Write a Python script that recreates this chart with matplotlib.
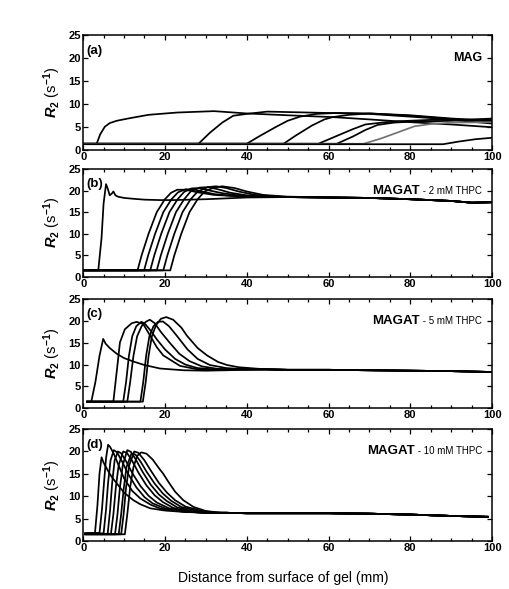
import numpy as np
import matplotlib
matplotlib.use('Agg')
import matplotlib.pyplot as plt
from matplotlib.ticker import MultipleLocator

plt.rcParams['font.family'] = ['Liberation Sans', 'DejaVu Sans']
plt.rcParams['mathtext.fontset'] = 'custom'
plt.rcParams['mathtext.rm'] = 'Liberation Sans:bold'
plt.rcParams['mathtext.it'] = 'Liberation Sans:italic:bold'

#%% data (x in mm, y = R2 in 1/s)
# (a) MAG
a1_x = [0, 3.3, 4.2, 5.3, 6.5, 8.2, 11, 16, 23, 32, 40, 50, 61, 70, 80, 90, 100]
a1_y = [1.4, 1.4, 3.5, 5.1, 5.9, 6.4, 6.9, 7.7, 8.2, 8.5, 8.0, 7.6, 7.2, 6.7, 6.1, 5.6, 5.0]
a2_x = [0, 28.2, 31, 34, 36.7, 40, 45, 55, 70, 85, 100]
a2_y = [1.4, 1.4, 3.8, 6.0, 7.5, 7.9, 8.4, 8.2, 7.9, 7.0, 5.8]
a3_x = [0, 40, 43, 47, 50, 53, 57, 62, 70, 80, 90, 100]
a3_y = [1.4, 1.4, 3.0, 5.0, 6.4, 7.3, 7.9, 8.1, 8.0, 7.5, 6.8, 6.2]
a4_x = [0, 49, 52, 56, 59, 61, 65, 70, 80, 90, 100]
a4_y = [1.4, 1.4, 3.2, 5.4, 6.7, 7.2, 7.7, 8.0, 7.6, 6.9, 6.4]
a5_x = [0, 57.5, 62, 66, 69, 73, 77, 85, 100]
a5_y = [1.4, 1.4, 3.1, 4.6, 5.6, 6.0, 6.3, 6.6, 6.7]
a6_x = [0, 62, 66, 69, 72, 76, 80, 90, 100]
a6_y = [1.4, 1.4, 3.0, 4.4, 5.5, 6.0, 6.2, 6.4, 6.9]
a7_x = [0, 68.6, 73, 77, 81, 85, 90, 100]
a7_y = [1.4, 1.4, 2.6, 3.9, 5.2, 5.7, 6.0, 6.1]
a8_x = [0, 88, 92, 96, 100]
a8_y = [1.3, 1.3, 1.9, 2.4, 2.7]

# (b) MAGAT - 2 mM THPC
b1_x = [0, 3.7, 4.5, 5.0, 5.6, 6.0, 6.5, 7.0, 7.4, 7.9, 8.5, 10, 12.3, 15, 18.8, 22, 30, 40]
b1_y = [1.5, 1.5, 9, 17, 21.5, 20.5, 18.9, 19.3, 19.8, 18.9, 18.6, 18.3, 18.1, 17.9, 17.8, 17.8, 18.0, 18.4]
b2_x = [0, 13.3, 14.3, 16, 18, 20, 21.5, 23, 25, 28, 32, 38]
b2_y = [1.5, 1.5, 5, 10, 15, 18, 19.5, 20.2, 20.2, 19.6, 19.0, 18.7]
b3_x = [0, 14.9, 15.9, 17.6, 19.6, 21.6, 23.2, 25, 27, 29, 32, 36, 42]
b3_y = [1.5, 1.5, 5, 10, 15, 18, 19.6, 20.3, 20.3, 19.8, 19.2, 18.8, 18.6]
b4_x = [0, 16.4, 17.4, 19.1, 21.1, 23.1, 24.7, 26.5, 28.5, 30.5, 34, 38, 44]
b4_y = [1.5, 1.5, 5, 10, 15, 18, 19.7, 20.5, 20.6, 20.1, 19.4, 18.9, 18.6]
b5_x = [0, 18.0, 19.0, 20.7, 22.7, 24.7, 26.3, 28.5, 30.5, 33, 36, 40, 46]
b5_y = [1.5, 1.5, 5, 10, 15, 18, 19.8, 20.7, 20.8, 20.3, 19.5, 18.9, 18.6]
b6_x = [0, 19.6, 20.6, 22.3, 24.3, 26.3, 28, 30.5, 32.5, 35, 38, 42, 48]
b6_y = [1.5, 1.5, 5, 10, 15, 18, 19.8, 20.8, 21.0, 20.6, 19.8, 19.0, 18.6]
b7_x = [0, 21.3, 22.3, 24.0, 26.0, 28.0, 29.7, 32, 34, 37, 40, 44, 50]
b7_y = [1.5, 1.5, 5, 10, 15, 18, 19.8, 20.7, 21.0, 20.6, 19.8, 19.0, 18.6]
b_tail_x = [50, 60, 70, 80, 90, 95, 100]
b_tail_y = [18.5, 18.4, 18.3, 18.0, 17.6, 17.2, 17.3]

# (c) MAGAT - 5 mM THPC
c1_x = [1, 2.0, 3.0, 4.0, 4.9, 5.5, 6.5, 8.2, 10, 12.3, 15, 18.8, 24.5, 30, 40]
c1_y = [1.5, 1.5, 6, 12, 15.9, 14.8, 13.8, 12.5, 11.5, 10.7, 9.9, 9.1, 8.7, 8.6, 8.8]
c2_x = [1, 7.0, 7.4, 8.3, 9.0, 10.2, 11.9, 13.1, 14.7, 16.4, 18, 19.6, 23.7, 28.6, 40]
c2_y = [1.5, 1.5, 1.6, 9.1, 15.1, 18.1, 19.5, 19.8, 19.3, 16.6, 14.0, 12.1, 9.7, 8.8, 8.9]
c3_x = [1, 9.8, 10.5, 11.2, 12.0, 13.0, 14.2, 15.0, 16.5, 18, 20, 22.5, 25, 28, 32, 40]
c3_y = [1.5, 1.5, 6, 12, 16.5, 18.8, 19.8, 19.5, 17.8, 15.8, 13.5, 11.3, 10.0, 9.2, 8.9, 8.9]
c4_x = [1, 10.8, 11.5, 12.3, 13.2, 14.3, 15.3, 16.3, 17.5, 19, 21, 23.5, 26, 29, 33, 40]
c4_y = [1.5, 1.5, 6, 12, 16.5, 18.8, 19.8, 20.3, 19.5, 17.5, 15.2, 12.5, 10.8, 9.6, 9.0, 8.9]
c5_x = [1, 14.0, 14.7, 15.4, 16.2, 17.2, 18.3, 19.5, 21, 23, 25.5, 28, 31, 35, 40]
c5_y = [1.5, 1.5, 6, 12, 16.5, 18.8, 19.8, 19.9, 18.8, 16.5, 13.5, 11.3, 9.9, 9.2, 8.9]
c6_x = [1, 14.6, 15.3, 16.0, 16.8, 17.8, 19.0, 20.3, 22, 24, 25.4, 28, 30.3, 33, 35.2, 38, 42]
c6_y = [1.5, 1.5, 6, 12, 16.5, 19.0, 20.5, 20.9, 20.3, 18.5, 16.6, 13.8, 12.1, 10.6, 9.9, 9.4, 9.1]
c_tail_x = [45, 50, 60, 70, 80, 90, 100]
c_tail_y = [8.9, 8.8, 8.8, 8.7, 8.6, 8.5, 8.3]

# (d) MAGAT - 10 mM THPC
d1_x = [0.5, 2.9, 3.5, 4.0, 4.5, 5.0, 6.0, 7.0, 8.2, 10, 12.3, 14, 16.4, 20, 24.5, 30]
d1_y = [1.7, 1.8, 8, 15, 18.7, 17.5, 15.8, 14.3, 12.9, 10.8, 9.1, 8.2, 7.3, 6.8, 6.5, 6.3]
d2_x = [0.5, 4.0, 4.6, 5.1, 5.6, 6.1, 6.6, 7.5, 8.5, 10, 12, 14, 16.5, 19, 22, 26, 30]
d2_y = [1.7, 1.8, 7, 13, 18.5, 21.5, 21.0, 19.5, 17.3, 14.0, 11.2, 9.5, 8.1, 7.2, 6.8, 6.5, 6.3]
d3_x = [0.5, 5.0, 5.6, 6.1, 6.7, 7.5, 8.3, 9.5, 11, 13, 15, 17, 20, 24, 30]
d3_y = [1.7, 1.7, 7, 13, 18, 20.3, 19.8, 17.8, 15, 12, 9.8, 8.4, 7.3, 6.6, 6.3]
d4_x = [0.5, 6.0, 6.6, 7.1, 7.7, 8.5, 9.3, 10.5, 12, 14, 16, 18, 21, 25, 30]
d4_y = [1.6, 1.6, 7, 13, 18, 20.0, 19.6, 17.8, 15.2, 12.3, 10.1, 8.6, 7.3, 6.6, 6.3]
d5_x = [0.5, 6.8, 7.4, 8.0, 8.7, 9.8, 10.7, 12, 13.5, 15.5, 17.5, 19.5, 22, 26, 30]
d5_y = [1.6, 1.6, 6, 12, 17, 20.0, 19.7, 17.9, 15.3, 12.4, 10.2, 8.7, 7.4, 6.6, 6.3]
d6_x = [0.5, 7.8, 8.4, 9.0, 9.7, 10.8, 11.7, 13, 14.5, 16.5, 18.5, 20.5, 23, 27, 31]
d6_y = [1.5, 1.5, 6, 12, 17, 20.3, 19.9, 18.0, 15.5, 12.6, 10.4, 8.9, 7.5, 6.6, 6.3]
d7_x = [0.5, 8.7, 9.3, 9.9, 10.6, 11.8, 12.8, 14, 15.5, 17.5, 19.5, 21.5, 24, 28, 32]
d7_y = [1.5, 1.5, 6, 11.5, 16.5, 19.5, 19.3, 17.8, 15.5, 12.8, 10.6, 9.0, 7.6, 6.7, 6.3]
d8_x = [0.5, 9.3, 9.9, 10.5, 11.3, 12.5, 13.5, 15, 16.5, 18.5, 20.5, 22.5, 25, 29, 33]
d8_y = [1.5, 1.5, 6, 12, 17, 20.0, 19.7, 18.0, 15.8, 13.0, 10.8, 9.1, 7.7, 6.7, 6.3]
d9_x = [0.5, 10.2, 10.8, 11.5, 12.3, 13.2, 14.2, 15.5, 17, 18.5, 19.6, 21, 22.5, 24.5, 27, 30, 34]
d9_y = [1.5, 1.5, 6, 12, 16.5, 19.0, 19.8, 19.5, 18.2, 16.3, 15.0, 13.0, 11.0, 9.1, 7.6, 6.7, 6.3]
d_tail_x = [35, 40, 50, 60, 70, 80, 90, 99]
d_tail_y = [6.3, 6.2, 6.2, 6.2, 6.1, 5.9, 5.6, 5.4]

panels = [
    ('(a)', 'MAG', None,
     [(a1_x, a1_y), (a2_x, a2_y), (a3_x, a3_y), (a4_x, a4_y),
      (a5_x, a5_y), (a6_x, a6_y), (a7_x, a7_y), (a8_x, a8_y)], None),
    ('(b)', 'MAGAT', '- 2 mM THPC',
     [(b1_x, b1_y), (b2_x, b2_y), (b3_x, b3_y), (b4_x, b4_y),
      (b5_x, b5_y), (b6_x, b6_y), (b7_x, b7_y)], (b_tail_x, b_tail_y)),
    ('(c)', 'MAGAT', '- 5 mM THPC',
     [(c1_x, c1_y), (c2_x, c2_y), (c3_x, c3_y), (c4_x, c4_y),
      (c5_x, c5_y), (c6_x, c6_y)], (c_tail_x, c_tail_y)),
    ('(d)', 'MAGAT', '- 10 mM THPC',
     [(d1_x, d1_y), (d2_x, d2_y), (d3_x, d3_y), (d4_x, d4_y), (d5_x, d5_y),
      (d6_x, d6_y), (d7_x, d7_y), (d8_x, d8_y), (d9_x, d9_y)], (d_tail_x, d_tail_y)),
]

# axes boxes in figure fractions [left, bottom, width, height]
boxes = [[0.163, 0.745, 0.802, 0.195],
         [0.163, 0.530, 0.802, 0.183],
         [0.163, 0.307, 0.802, 0.185],
         [0.163, 0.0815, 0.802, 0.190]]

#%%
fig = plt.figure(figsize=(5.1, 5.89), dpi=100)

for (tag, name, sub, curves, tail), box in zip(panels, boxes):
    ax = fig.add_axes(box)
    for i, (x, y) in enumerate(curves):
        x = np.array(x, dtype=float)
        y = np.array(y, dtype=float)
        if tail is not None:
            tx = np.array(tail[0], dtype=float)
            ty = np.array(tail[1], dtype=float)
            keep = tx > x[-1]
            x = np.concatenate([x, tx[keep]])
            y = np.concatenate([y, ty[keep]])
        col = '0.45' if (tag == '(a)' and i == 6) else 'black'
        ax.plot(x, y, color=col, lw=1.25, solid_joinstyle='round')

    ax.set_xlim(0, 100)
    ax.set_ylim(0, 25)
    ax.xaxis.set_major_locator(MultipleLocator(20))
    ax.xaxis.set_minor_locator(MultipleLocator(5))
    ax.yaxis.set_major_locator(MultipleLocator(5))
    ax.tick_params(which='both', direction='in', top=True, right=True,
                   labelsize=8, pad=1.5, width=0.9)
    ax.tick_params(which='major', length=3.5)
    ax.tick_params(which='minor', length=2)
    for lab in ax.get_xticklabels() + ax.get_yticklabels():
        lab.set_fontweight('bold')
    for s in ax.spines.values():
        s.set_linewidth(1.1)
    ax.set_ylabel(r'$R_2$ (s$^{-1}$)', fontsize=10.5, labelpad=4)

    ax.text(0.008, 0.86, tag, transform=ax.transAxes, fontsize=9.5,
            fontweight='bold', ha='left', va='center')
    if sub is None:
        ax.text(0.975, 0.80, name, transform=ax.transAxes, fontsize=9,
                fontweight='bold', ha='right', va='center')
    else:
        t = ax.text(0.975, 0.80, ' ' + sub, transform=ax.transAxes, fontsize=7,
                    ha='right', va='center')
        ax.annotate(name, xy=(0, 0.5), xycoords=t, fontsize=9.5,
                    fontweight='bold', ha='right', va='center')

fig.text(0.555, 0.019, 'Distance from surface of gel (mm)', fontsize=10,
         ha='center', va='center')

plt.savefig('out.png', dpi=100)
